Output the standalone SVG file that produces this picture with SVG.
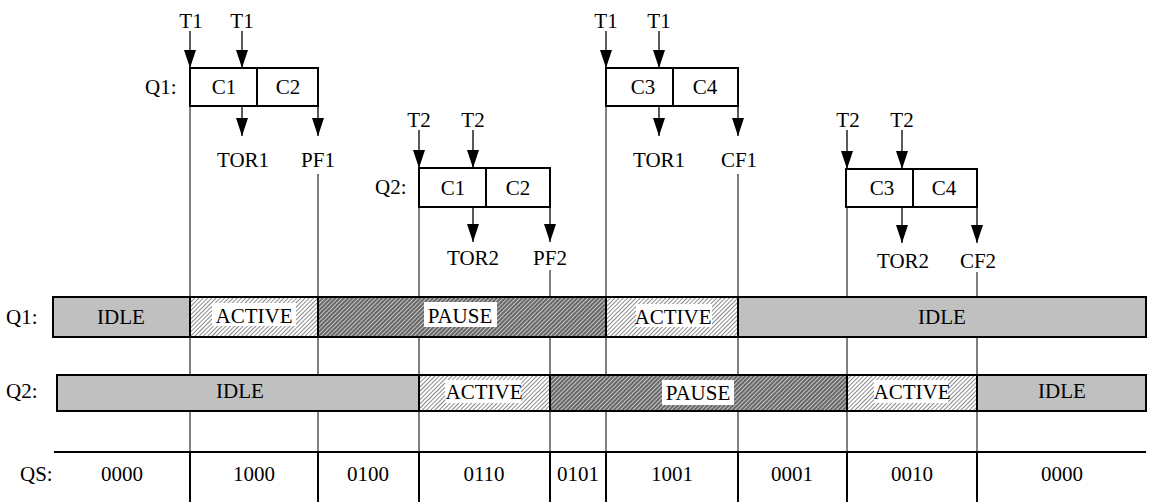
<svg xmlns="http://www.w3.org/2000/svg" width="1156" height="502" viewBox="0 0 1156 502">
<style>
text{font-family:"Liberation Serif","Times New Roman",serif;font-size:21px;fill:#000;}
.m{text-anchor:middle;}
.box{fill:#fff;stroke:#000;stroke-width:2;}
.arr{stroke:#000;stroke-width:1.3;fill:none;marker-end:url(#ah);}
.vl{stroke:#000;stroke-width:1;}
.vq{stroke:#000;stroke-width:2;}
.idle{fill:#c0c0c0;stroke:#000;stroke-width:2;}
.act{fill:url(#hl);stroke:#000;stroke-width:2;}
.pau{fill:url(#hd);stroke:#000;stroke-width:2;}
.wb{fill:#fff;}
</style>
<defs>
<marker id="ah" markerUnits="userSpaceOnUse" markerWidth="18" markerHeight="12" refX="18" refY="6" orient="auto">
<path d="M0,0 L18,6 L0,12 z" fill="#000"/>
</marker>
<pattern id="hl" width="3" height="3" patternUnits="userSpaceOnUse" patternTransform="rotate(45)">
<rect width="3" height="3" fill="#fff"/>
<line x1="0.5" y1="0" x2="0.5" y2="3" stroke="#8a8a8a" stroke-width="1"/>
</pattern>
<pattern id="hd" width="3" height="3" patternUnits="userSpaceOnUse" patternTransform="rotate(45)">
<rect width="3" height="3" fill="#c4c4c4"/>
<line x1="1" y1="0" x2="1" y2="3" stroke="#2a2a2a" stroke-width="1.2"/>
</pattern>
</defs>

<g id="connectors">
<line class="vl" x1="190" y1="106" x2="190" y2="452"/>
<line class="vl" x1="318" y1="174" x2="318" y2="452"/>
<line class="vl" x1="419" y1="207" x2="419" y2="452"/>
<line class="vl" x1="550" y1="270" x2="550" y2="452"/>
<line class="vl" x1="606" y1="106" x2="606" y2="452"/>
<line class="vl" x1="738" y1="174" x2="738" y2="452"/>
<line class="vl" x1="847" y1="207" x2="847" y2="452"/>
<line class="vl" x1="977" y1="272" x2="977" y2="452"/>
<line class="vq" x1="54" y1="452" x2="1146" y2="452"/>
<line class="vq" x1="190" y1="452" x2="190" y2="502"/>
<line class="vq" x1="318" y1="452" x2="318" y2="502"/>
<line class="vq" x1="419" y1="452" x2="419" y2="502"/>
<line class="vq" x1="550" y1="452" x2="550" y2="502"/>
<line class="vq" x1="606" y1="452" x2="606" y2="502"/>
<line class="vq" x1="738" y1="452" x2="738" y2="502"/>
<line class="vq" x1="847" y1="452" x2="847" y2="502"/>
<line class="vq" x1="977" y1="452" x2="977" y2="502"/>
<line class="arr" x1="190" y1="31" x2="190" y2="68"/>
<line class="arr" x1="242" y1="31" x2="242" y2="68"/>
<line class="arr" x1="242" y1="106" x2="242" y2="136"/>
<line class="arr" x1="318" y1="106" x2="318" y2="136"/>
<line class="arr" x1="419" y1="130" x2="419" y2="168"/>
<line class="arr" x1="473" y1="130" x2="473" y2="168"/>
<line class="arr" x1="473" y1="207" x2="473" y2="242"/>
<line class="arr" x1="550" y1="207" x2="550" y2="242"/>
<line class="arr" x1="606" y1="31" x2="606" y2="68"/>
<line class="arr" x1="659" y1="31" x2="659" y2="68"/>
<line class="arr" x1="659" y1="106" x2="659" y2="136"/>
<line class="arr" x1="738" y1="106" x2="738" y2="136"/>
<line class="arr" x1="847" y1="130" x2="847" y2="169"/>
<line class="arr" x1="902" y1="130" x2="902" y2="169"/>
<line class="arr" x1="902" y1="207" x2="902" y2="243"/>
<line class="arr" x1="977" y1="207" x2="977" y2="243"/>
</g>

<g id="q1-c1c2">
<text class="m" x="191" y="28">T1</text>
<text class="m" x="242" y="28">T1</text>
<text x="145" y="94">Q1:</text>
<rect class="box" x="190" y="68" width="128" height="38"/>
<line stroke="#000" stroke-width="2" x1="257" y1="68" x2="257" y2="106"/>
<text class="m" x="224" y="94">C1</text>
<text class="m" x="288" y="94">C2</text>
<text class="m" x="243" y="167">TOR1</text>
<text class="m" x="318" y="167">PF1</text>
</g>

<g id="q2-c1c2">
<text class="m" x="419" y="127">T2</text>
<text class="m" x="473" y="127">T2</text>
<text x="375" y="194">Q2:</text>
<rect class="box" x="419" y="168" width="131" height="39"/>
<line stroke="#000" stroke-width="2" x1="486" y1="168" x2="486" y2="207"/>
<text class="m" x="453" y="195">C1</text>
<text class="m" x="518" y="195">C2</text>
<text class="m" x="473" y="265">TOR2</text>
<text class="m" x="550" y="265">PF2</text>
</g>

<g id="q1-c3c4">
<text class="m" x="606" y="28">T1</text>
<text class="m" x="659" y="28">T1</text>
<rect class="box" x="606" y="68" width="132" height="38"/>
<line stroke="#000" stroke-width="2" x1="673" y1="68" x2="673" y2="106"/>
<text class="m" x="643" y="94">C3</text>
<text class="m" x="705" y="94">C4</text>
<text class="m" x="659" y="167">TOR1</text>
<text class="m" x="739" y="167">CF1</text>
</g>

<g id="q2-c3c4">
<text class="m" x="848" y="127">T2</text>
<text class="m" x="902" y="127">T2</text>
<rect class="box" x="846" y="169" width="131" height="38"/>
<line stroke="#000" stroke-width="2" x1="913" y1="169" x2="913" y2="207"/>
<text class="m" x="882" y="195">C3</text>
<text class="m" x="944" y="195">C4</text>
<text class="m" x="903" y="268">TOR2</text>
<text class="m" x="978" y="268">CF2</text>
</g>

<g id="q1-bar">
<text x="6" y="324">Q1:</text>
<rect class="idle" x="53" y="297" width="137" height="40"/>
<rect class="act" x="190" y="297" width="128" height="40"/>
<rect class="pau" x="318" y="297" width="288" height="40"/>
<rect class="act" x="606" y="297" width="132" height="40"/>
<rect class="idle" x="738" y="297" width="408" height="40"/>
<text class="m" x="121" y="324">IDLE</text>
<rect class="wb" x="212" y="303" width="84" height="23"/>
<text class="m" x="254" y="323">ACTIVE</text>
<rect class="wb" x="424" y="302" width="73" height="25"/>
<text class="m" x="460" y="323">PAUSE</text>
<rect class="wb" x="636" y="304" width="76" height="23"/>
<text class="m" x="673" y="324">ACTIVE</text>
<text class="m" x="942" y="324">IDLE</text>
</g>

<g id="q2-bar">
<text x="6" y="398">Q2:</text>
<rect class="idle" x="57" y="375" width="362" height="36"/>
<rect class="act" x="419" y="375" width="131" height="36"/>
<rect class="pau" x="550" y="375" width="297" height="36"/>
<rect class="act" x="847" y="375" width="130" height="36"/>
<rect class="idle" x="977" y="375" width="169" height="36"/>
<text class="m" x="240" y="398">IDLE</text>
<rect class="wb" x="445" y="380" width="76" height="23"/>
<text class="m" x="484" y="399">ACTIVE</text>
<rect class="wb" x="662" y="380" width="72" height="25"/>
<text class="m" x="698" y="400">PAUSE</text>
<rect class="wb" x="874" y="380" width="74" height="23"/>
<text class="m" x="912" y="399">ACTIVE</text>
<text class="m" x="1062" y="398">IDLE</text>
</g>

<g id="qs-row">
<text x="20" y="481">QS:</text>
<text class="m" x="122" y="481">0000</text>
<text class="m" x="254" y="481">1000</text>
<text class="m" x="368" y="481">0100</text>
<text class="m" x="484" y="481">0110</text>
<text class="m" x="578" y="481">0101</text>
<text class="m" x="672" y="481">1001</text>
<text class="m" x="792" y="481">0001</text>
<text class="m" x="912" y="481">0010</text>
<text class="m" x="1062" y="481">0000</text>
</g>
</svg>
